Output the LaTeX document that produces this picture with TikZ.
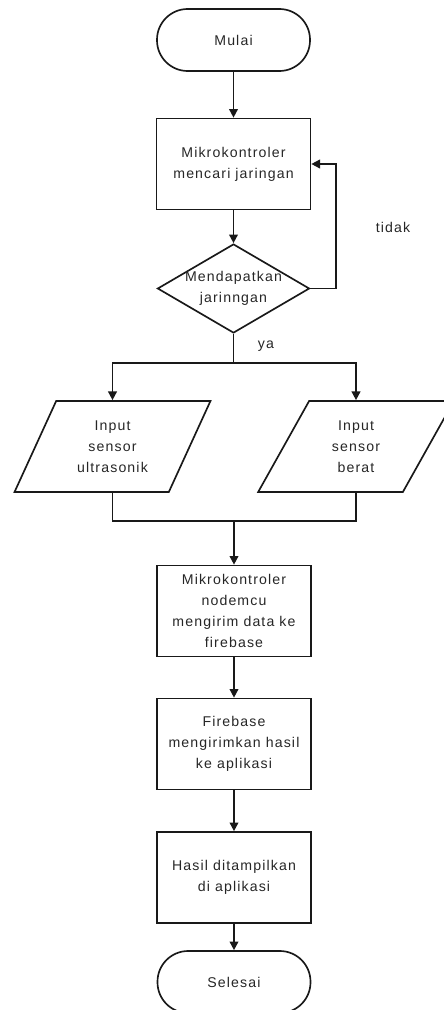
\documentclass[tikz,border=0pt]{standalone}
\usepackage{fontspec}
\setmainfont{Liberation Sans}[LetterSpace=8]
\usetikzlibrary{shapes.geometric,arrows.meta}
\begin{document}
\begin{tikzpicture}[x=0.75pt,y=-0.75pt,
  every node/.style={font=\fontsize{10.6}{15.7}\selectfont, text=black!85},
  line/.style={draw=black!90, line width=1.25pt},
  arr/.style={line, -{Triangle[length=6.5pt,width=6.5pt]}},
  terminal/.style={line, draw, rectangle, rounded corners=23pt, minimum width=153*0.75pt, minimum height=62*0.75pt, align=center},
  process/.style={line, draw, rectangle, minimum width=154*0.75pt, minimum height=91*0.75pt, align=center, inner sep=1pt},
  decision/.style={line, draw, diamond, minimum width=152*0.75pt, minimum height=89*0.75pt, inner sep=0pt},
  io/.style={line, draw, trapezium, trapezium left angle=63.2, trapezium right angle=116.8, trapezium stretches=true, minimum width=197*0.75pt, minimum height=91*0.75pt, align=center, inner sep=0pt},
  lbl/.style={inner sep=0pt}
]
\useasboundingbox (0,0) rectangle (443,1010);
\node[terminal] (mulai) at (233.5,40) {Mulai};
\node[process] (r1) at (233.5,164) {Mikrokontroler\\mencari jaringan};
\node[decision, label={[lbl, align=center]center:Mendapatkan\\jarinngan}] (d) at (233.5,288.5) {};
\node[io] (p1) at (112.5,446.5) {Input\\sensor\\ultrasonik};
\node[io] (p2) at (356,446.5) {Input\\sensor\\berat};
\node[process] (r3) at (234,611) {Mikrokontroler\\nodemcu\\mengirim data ke\\firebase};
\node[process] (r4) at (234,744) {Firebase\\mengirimkan hasil\\ke aplikasi};
\node[process] (r5) at (234,877.5) {Hasil ditampilkan\\di aplikasi};
\node[terminal] (selesai) at (234,982) {Selesai};
\node[lbl] (tidak) at (393,227) {tidak};
\node[lbl] (ya) at (266,346) {ya};
\coordinate (split) at (233.5,363);
\coordinate (join) at (234,521);

\draw[arr] (mulai) -- (r1);
\draw[arr] (r1) -- (d);
\draw[arr] (d.east) -- (336,288.5) |- (r1.east);
\draw[line] (d.south) -- (split);
\draw[arr] (split) -| (p1.north);
\draw[arr] (split) -| (p2.north);
\draw[line] (p1.south) |- (join);
\draw[line] (p2.south) |- (join);
\draw[arr] (join) -- (r3);
\draw[arr] (r3) -- (r4);
\draw[arr] (r4) -- (r5);
\draw[arr] (r5) -- (selesai);
\end{tikzpicture}
\end{document}
